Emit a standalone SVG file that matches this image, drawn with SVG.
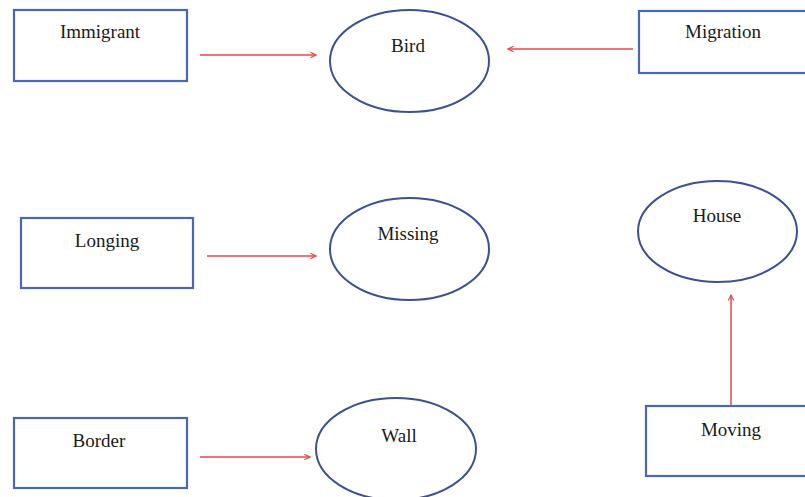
<svg xmlns="http://www.w3.org/2000/svg" width="805" height="497" viewBox="0 0 805 497">
<defs>
<marker id="ah" viewBox="0 0 10 10" refX="9" refY="5" markerWidth="7" markerHeight="7" markerUnits="userSpaceOnUse" orient="auto">
<path d="M1,1 L9,5 L1,9" fill="none" stroke="#e8474a" stroke-width="1.6"/>
</marker>
<style>
.box{fill:#fff;stroke:#4a68ad;stroke-width:2.2}
.ell{fill:#fff;stroke:#3a5390;stroke-width:2}
.lbl{font-family:"Liberation Serif","Times New Roman",serif;font-size:19px;fill:#1a1a1a;text-anchor:middle}
.con{stroke:#e8474a;stroke-width:1.5;fill:none;marker-end:url(#ah)}
</style>
</defs>
<rect width="805" height="497" fill="#fff"/>
<g id="immigrant"><rect class="box" x="14" y="10" width="173" height="71"/><text class="lbl" x="100" y="38">Immigrant</text></g>
<g id="bird"><ellipse class="ell" cx="409.5" cy="61" rx="79.5" ry="51"/><text class="lbl" x="408" y="52">Bird</text></g>
<g id="migration"><rect class="box" x="639" y="11" width="180" height="62"/><text class="lbl" x="723" y="38">Migration</text></g>
<g id="longing"><rect class="box" x="21" y="218" width="172" height="70"/><text class="lbl" x="107" y="247">Longing</text></g>
<g id="missing"><ellipse class="ell" cx="409.5" cy="249" rx="79.5" ry="51"/><text class="lbl" x="408" y="240">Missing</text></g>
<g id="house"><ellipse class="ell" cx="717.5" cy="231.5" rx="79.5" ry="50.5"/><text class="lbl" x="717" y="222">House</text></g>
<g id="moving"><rect class="box" x="646" y="406" width="180" height="70"/><text class="lbl" x="731" y="436">Moving</text></g>
<g id="border"><rect class="box" x="14" y="418" width="173" height="70"/><text class="lbl" x="99" y="447">Border</text></g>
<g id="wall"><ellipse class="ell" cx="396" cy="449" rx="80" ry="51"/><text class="lbl" x="399" y="442">Wall</text></g>
<g id="connectors">
<line class="con" x1="200" y1="55" x2="316" y2="55"/>
<line class="con" x1="633" y1="49" x2="508" y2="49"/>
<line class="con" x1="207" y1="256" x2="316" y2="256"/>
<line class="con" x1="731" y1="406" x2="731" y2="295"/>
<line class="con" x1="200" y1="457" x2="310" y2="457"/>
</g>
</svg>
